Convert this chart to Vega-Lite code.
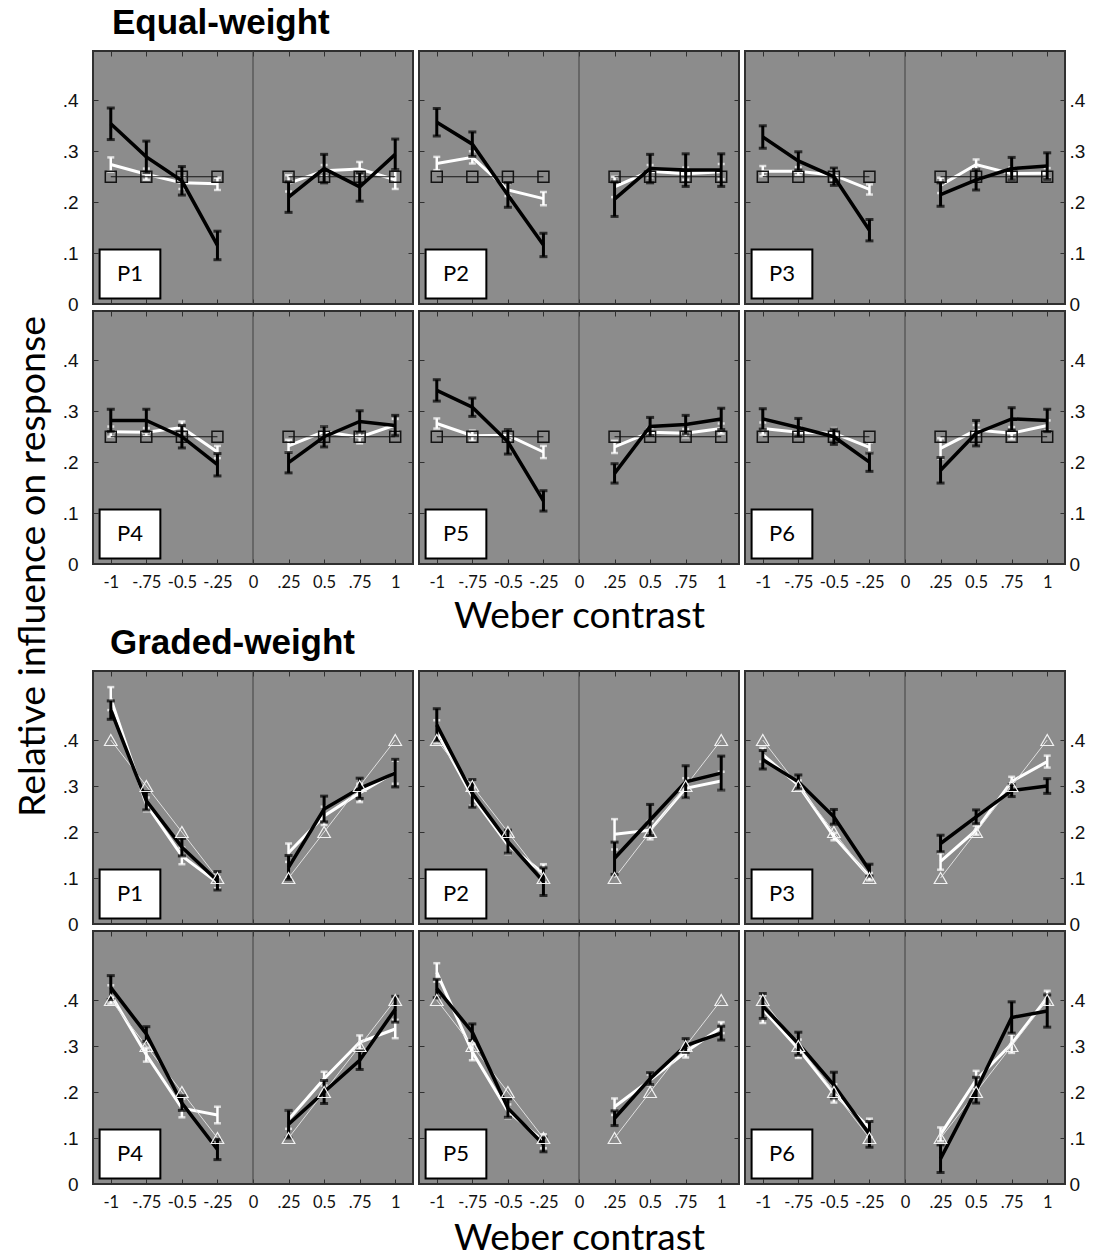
{
"$schema":"https://vega.github.io/schema/vega-lite/v6.json",
"padding":{"left":12,"top":5,"right":5,"bottom":0},
"background":"#ffffff",
"datasets":{"d":[
{"s":"E","p":"P1","x":-1,"h":"n","b":0.354,"be":0.031,"w":0.274,"we":0.014,"r":0.25},
{"s":"E","p":"P1","x":-0.75,"h":"n","b":0.289,"be":0.031,"w":0.255,"we":0.011,"r":0.25},
{"s":"E","p":"P1","x":-0.5,"h":"n","b":0.242,"be":0.028,"w":0.238,"we":0.012,"r":0.25},
{"s":"E","p":"P1","x":-0.25,"h":"n","b":0.115,"be":0.028,"w":0.236,"we":0.012,"r":0.25},
{"s":"E","p":"P1","x":0.25,"h":"p","b":0.21,"be":0.03,"w":0.237,"we":0.016,"r":0.25},
{"s":"E","p":"P1","x":0.5,"h":"p","b":0.266,"be":0.028,"w":0.262,"we":0.011,"r":0.25},
{"s":"E","p":"P1","x":0.75,"h":"p","b":0.23,"be":0.028,"w":0.265,"we":0.014,"r":0.25},
{"s":"E","p":"P1","x":1,"h":"p","b":0.294,"be":0.03,"w":0.244,"we":0.018,"r":0.25},
{"s":"E","p":"P2","x":-1,"h":"n","b":0.357,"be":0.027,"w":0.276,"we":0.013,"r":0.25},
{"s":"E","p":"P2","x":-0.75,"h":"n","b":0.314,"be":0.024,"w":0.288,"we":0.012,"r":0.25},
{"s":"E","p":"P2","x":-0.5,"h":"n","b":0.214,"be":0.024,"w":0.224,"we":0.012,"r":0.25},
{"s":"E","p":"P2","x":-0.25,"h":"n","b":0.116,"be":0.023,"w":0.207,"we":0.013,"r":0.25},
{"s":"E","p":"P2","x":0.25,"h":"p","b":0.206,"be":0.034,"w":0.23,"we":0.02,"r":0.25},
{"s":"E","p":"P2","x":0.5,"h":"p","b":0.266,"be":0.028,"w":0.261,"we":0.012,"r":0.25},
{"s":"E","p":"P2","x":0.75,"h":"p","b":0.263,"be":0.032,"w":0.256,"we":0.012,"r":0.25},
{"s":"E","p":"P2","x":1,"h":"p","b":0.263,"be":0.032,"w":0.26,"we":0.015,"r":0.25},
{"s":"E","p":"P3","x":-1,"h":"n","b":0.328,"be":0.022,"w":0.261,"we":0.01,"r":0.25},
{"s":"E","p":"P3","x":-0.75,"h":"n","b":0.281,"be":0.018,"w":0.261,"we":0.008,"r":0.25},
{"s":"E","p":"P3","x":-0.5,"h":"n","b":0.25,"be":0.017,"w":0.253,"we":0.01,"r":0.25},
{"s":"E","p":"P3","x":-0.25,"h":"n","b":0.145,"be":0.021,"w":0.225,"we":0.01,"r":0.25},
{"s":"E","p":"P3","x":0.25,"h":"p","b":0.215,"be":0.023,"w":0.233,"we":0.015,"r":0.25},
{"s":"E","p":"P3","x":0.5,"h":"p","b":0.244,"be":0.02,"w":0.274,"we":0.01,"r":0.25},
{"s":"E","p":"P3","x":0.75,"h":"p","b":0.266,"be":0.022,"w":0.256,"we":0.012,"r":0.25},
{"s":"E","p":"P3","x":1,"h":"p","b":0.271,"be":0.026,"w":0.257,"we":0.01,"r":0.25},
{"s":"E","p":"P4","x":-1,"h":"n","b":0.282,"be":0.022,"w":0.26,"we":0.01,"r":0.25},
{"s":"E","p":"P4","x":-0.75,"h":"n","b":0.282,"be":0.022,"w":0.259,"we":0.008,"r":0.25},
{"s":"E","p":"P4","x":-0.5,"h":"n","b":0.25,"be":0.022,"w":0.268,"we":0.012,"r":0.25},
{"s":"E","p":"P4","x":-0.25,"h":"n","b":0.195,"be":0.022,"w":0.22,"we":0.012,"r":0.25},
{"s":"E","p":"P4","x":0.25,"h":"p","b":0.199,"be":0.02,"w":0.232,"we":0.012,"r":0.25},
{"s":"E","p":"P4","x":0.5,"h":"p","b":0.25,"be":0.02,"w":0.26,"we":0.01,"r":0.25},
{"s":"E","p":"P4","x":0.75,"h":"p","b":0.28,"be":0.021,"w":0.249,"we":0.012,"r":0.25},
{"s":"E","p":"P4","x":1,"h":"p","b":0.272,"be":0.02,"w":0.273,"we":0.012,"r":0.25},
{"s":"E","p":"P5","x":-1,"h":"n","b":0.341,"be":0.021,"w":0.276,"we":0.01,"r":0.25},
{"s":"E","p":"P5","x":-0.75,"h":"n","b":0.308,"be":0.018,"w":0.252,"we":0.01,"r":0.25},
{"s":"E","p":"P5","x":-0.5,"h":"n","b":0.24,"be":0.024,"w":0.253,"we":0.01,"r":0.25},
{"s":"E","p":"P5","x":-0.25,"h":"n","b":0.124,"be":0.02,"w":0.22,"we":0.012,"r":0.25},
{"s":"E","p":"P5","x":0.25,"h":"p","b":0.178,"be":0.019,"w":0.23,"we":0.012,"r":0.25},
{"s":"E","p":"P5","x":0.5,"h":"p","b":0.27,"be":0.018,"w":0.259,"we":0.008,"r":0.25},
{"s":"E","p":"P5","x":0.75,"h":"p","b":0.274,"be":0.018,"w":0.257,"we":0.008,"r":0.25},
{"s":"E","p":"P5","x":1,"h":"p","b":0.285,"be":0.021,"w":0.266,"we":0.01,"r":0.25},
{"s":"E","p":"P6","x":-1,"h":"n","b":0.285,"be":0.02,"w":0.266,"we":0.012,"r":0.25},
{"s":"E","p":"P6","x":-0.75,"h":"n","b":0.268,"be":0.018,"w":0.259,"we":0.01,"r":0.25},
{"s":"E","p":"P6","x":-0.5,"h":"n","b":0.25,"be":0.015,"w":0.257,"we":0.01,"r":0.25},
{"s":"E","p":"P6","x":-0.25,"h":"n","b":0.2,"be":0.018,"w":0.229,"we":0.01,"r":0.25},
{"s":"E","p":"P6","x":0.25,"h":"p","b":0.184,"be":0.025,"w":0.227,"we":0.02,"r":0.25},
{"s":"E","p":"P6","x":0.5,"h":"p","b":0.257,"be":0.025,"w":0.263,"we":0.01,"r":0.25},
{"s":"E","p":"P6","x":0.75,"h":"p","b":0.285,"be":0.022,"w":0.257,"we":0.012,"r":0.25},
{"s":"E","p":"P6","x":1,"h":"p","b":0.282,"be":0.022,"w":0.272,"we":0.01,"r":0.25},
{"s":"G","p":"P1","x":-1,"h":"n","b":0.465,"be":0.02,"w":0.49,"we":0.025,"r":0.4},
{"s":"G","p":"P1","x":-0.75,"h":"n","b":0.268,"be":0.02,"w":0.26,"we":0.015,"r":0.3},
{"s":"G","p":"P1","x":-0.5,"h":"n","b":0.167,"be":0.019,"w":0.148,"we":0.018,"r":0.2},
{"s":"G","p":"P1","x":-0.25,"h":"n","b":0.094,"be":0.02,"w":0.09,"we":0.012,"r":0.1},
{"s":"G","p":"P1","x":0.25,"h":"p","b":0.123,"be":0.026,"w":0.155,"we":0.02,"r":0.1},
{"s":"G","p":"P1","x":0.5,"h":"p","b":0.25,"be":0.028,"w":0.235,"we":0.02,"r":0.2},
{"s":"G","p":"P1","x":0.75,"h":"p","b":0.295,"be":0.022,"w":0.285,"we":0.02,"r":0.3},
{"s":"G","p":"P1","x":1,"h":"p","b":0.328,"be":0.03,"w":0.33,"we":0.025,"r":0.4},
{"s":"G","p":"P2","x":-1,"h":"n","b":0.433,"be":0.035,"w":0.418,"we":0.025,"r":0.4},
{"s":"G","p":"P2","x":-0.75,"h":"n","b":0.284,"be":0.03,"w":0.277,"we":0.02,"r":0.3},
{"s":"G","p":"P2","x":-0.5,"h":"n","b":0.179,"be":0.025,"w":0.172,"we":0.02,"r":0.2},
{"s":"G","p":"P2","x":-0.25,"h":"n","b":0.092,"be":0.03,"w":0.11,"we":0.02,"r":0.1},
{"s":"G","p":"P2","x":0.25,"h":"p","b":0.143,"be":0.035,"w":0.195,"we":0.033,"r":0.1},
{"s":"G","p":"P2","x":0.5,"h":"p","b":0.226,"be":0.034,"w":0.204,"we":0.02,"r":0.2},
{"s":"G","p":"P2","x":0.75,"h":"p","b":0.309,"be":0.035,"w":0.295,"we":0.022,"r":0.3},
{"s":"G","p":"P2","x":1,"h":"p","b":0.328,"be":0.037,"w":0.311,"we":0.02,"r":0.4},
{"s":"G","p":"P3","x":-1,"h":"n","b":0.357,"be":0.02,"w":0.368,"we":0.015,"r":0.4},
{"s":"G","p":"P3","x":-0.75,"h":"n","b":0.309,"be":0.015,"w":0.302,"we":0.01,"r":0.3},
{"s":"G","p":"P3","x":-0.5,"h":"n","b":0.233,"be":0.016,"w":0.19,"we":0.008,"r":0.2},
{"s":"G","p":"P3","x":-0.25,"h":"n","b":0.117,"be":0.013,"w":0.103,"we":0.008,"r":0.1},
{"s":"G","p":"P3","x":0.25,"h":"p","b":0.175,"be":0.018,"w":0.136,"we":0.018,"r":0.1},
{"s":"G","p":"P3","x":0.5,"h":"p","b":0.233,"be":0.015,"w":0.204,"we":0.01,"r":0.2},
{"s":"G","p":"P3","x":0.75,"h":"p","b":0.29,"be":0.013,"w":0.31,"we":0.01,"r":0.3},
{"s":"G","p":"P3","x":1,"h":"p","b":0.3,"be":0.016,"w":0.353,"we":0.013,"r":0.4},
{"s":"G","p":"P4","x":-1,"h":"n","b":0.427,"be":0.026,"w":0.412,"we":0.02,"r":0.4},
{"s":"G","p":"P4","x":-0.75,"h":"n","b":0.326,"be":0.016,"w":0.281,"we":0.015,"r":0.3},
{"s":"G","p":"P4","x":-0.5,"h":"n","b":0.176,"be":0.016,"w":0.165,"we":0.02,"r":0.2},
{"s":"G","p":"P4","x":-0.25,"h":"n","b":0.075,"be":0.022,"w":0.15,"we":0.018,"r":0.1},
{"s":"G","p":"P4","x":0.25,"h":"p","b":0.13,"be":0.03,"w":0.14,"we":0.02,"r":0.1},
{"s":"G","p":"P4","x":0.5,"h":"p","b":0.2,"be":0.025,"w":0.229,"we":0.015,"r":0.2},
{"s":"G","p":"P4","x":0.75,"h":"p","b":0.269,"be":0.02,"w":0.308,"we":0.015,"r":0.3},
{"s":"G","p":"P4","x":1,"h":"p","b":0.38,"be":0.028,"w":0.337,"we":0.02,"r":0.4},
{"s":"G","p":"P5","x":-1,"h":"n","b":0.425,"be":0.02,"w":0.46,"we":0.02,"r":0.4},
{"s":"G","p":"P5","x":-0.75,"h":"n","b":0.33,"be":0.018,"w":0.287,"we":0.018,"r":0.3},
{"s":"G","p":"P5","x":-0.5,"h":"n","b":0.165,"be":0.02,"w":0.158,"we":0.015,"r":0.2},
{"s":"G","p":"P5","x":-0.25,"h":"n","b":0.086,"be":0.016,"w":0.093,"we":0.015,"r":0.1},
{"s":"G","p":"P5","x":0.25,"h":"p","b":0.143,"be":0.016,"w":0.168,"we":0.018,"r":0.1},
{"s":"G","p":"P5","x":0.5,"h":"p","b":0.229,"be":0.013,"w":0.226,"we":0.012,"r":0.2},
{"s":"G","p":"P5","x":0.75,"h":"p","b":0.301,"be":0.015,"w":0.287,"we":0.012,"r":0.3},
{"s":"G","p":"P5","x":1,"h":"p","b":0.328,"be":0.015,"w":0.34,"we":0.012,"r":0.4},
{"s":"G","p":"P6","x":-1,"h":"n","b":0.387,"be":0.027,"w":0.38,"we":0.03,"r":0.4},
{"s":"G","p":"P6","x":-0.75,"h":"n","b":0.305,"be":0.025,"w":0.294,"we":0.02,"r":0.3},
{"s":"G","p":"P6","x":-0.5,"h":"n","b":0.215,"be":0.028,"w":0.197,"we":0.02,"r":0.2},
{"s":"G","p":"P6","x":-0.25,"h":"n","b":0.108,"be":0.028,"w":0.122,"we":0.02,"r":0.1},
{"s":"G","p":"P6","x":0.25,"h":"p","b":0.055,"be":0.03,"w":0.108,"we":0.015,"r":0.1},
{"s":"G","p":"P6","x":0.5,"h":"p","b":0.204,"be":0.028,"w":0.226,"we":0.02,"r":0.2},
{"s":"G","p":"P6","x":0.75,"h":"p","b":0.362,"be":0.034,"w":0.305,"we":0.02,"r":0.3},
{"s":"G","p":"P6","x":1,"h":"p","b":0.376,"be":0.035,"w":0.405,"we":0.015,"r":0.4}
]},
"columns":3,
"bounds":"flush",
"spacing":{"row":7,"column":6},
"concat":[
{"width":320,"height":253,"data":{"name":"d"},"transform":[{"filter":"datum.s=='E'&&datum.p=='P1'"}],
"title":{"text":"Equal-weight","anchor":"start","frame":"group","font":"Liberation Sans","fontSize":35,"fontWeight":"bold","color":"#000000","baseline":"alphabetic","offset":-18.5,"dx":19},
"resolve":{"axis":{"x":"independent","y":"independent"}},"layer":[
{"data":{"values":[{"s":"E","p":"P1"}]},"mark":{"type":"rule","color":"#404040","strokeWidth":1},"encoding":{"x":{"datum":0,"type":"quantitative","axis":null}}},
{"mark":{"type":"errorbar","ticks":true,"size":7,"thickness":2.5,"color":"#ffffff"},"encoding":{"x":{"field":"x","type":"quantitative","axis":null},"y":{"field":"w","type":"quantitative","axis":null},"yError":{"field":"we"}}},
{"mark":{"type":"line","color":"#ffffff","strokeWidth":3},"encoding":{"x":{"field":"x","type":"quantitative","scale":{"domain":[-1.125,1.125],"nice":false},"axis":{"orient":"bottom","values":[-1,-0.75,-0.5,-0.25,0,0.25,0.5,0.75,1],"labels":false,"title":null}},"y":{"field":"w","type":"quantitative","scale":{"domain":[0,0.497],"nice":false},"axis":{"orient":"left","values":[0,0.1,0.2,0.3,0.4],"labelExpr":"datum.value==0?'0':'.'+round(datum.value*10)","title":null}},"detail":{"field":"h"}}},
{"mark":{"type":"line","color":"#141414","strokeWidth":1.2},"encoding":{"x":{"field":"x","type":"quantitative","axis":{"orient":"top","values":[-1,-0.75,-0.5,-0.25,0,0.25,0.5,0.75,1],"labels":false,"title":null}},"y":{"field":"r","type":"quantitative","axis":{"orient":"right","values":[0,0.1,0.2,0.3,0.4],"labels":false,"title":null}},"detail":{"field":"h"}}},
{"mark":{"type":"point","shape":"square","filled":false,"color":"#141414","size":120,"strokeWidth":1.5,"opacity":1},"encoding":{"x":{"field":"x","type":"quantitative","axis":null},"y":{"field":"r","type":"quantitative","axis":null}}},
{"mark":{"type":"errorbar","ticks":true,"size":8,"thickness":3,"color":"#000000"},"encoding":{"x":{"field":"x","type":"quantitative","axis":null},"y":{"field":"b","type":"quantitative","axis":null},"yError":{"field":"be"}}},
{"mark":{"type":"line","color":"#000000","strokeWidth":3.5},"encoding":{"x":{"field":"x","type":"quantitative","axis":null},"y":{"field":"b","type":"quantitative","axis":null},"detail":{"field":"h"}}},
{"data":{"values":[{"s":"E","p":"P1"}]},"mark":{"type":"point","shape":"M-1.24,-1H1.24V1H-1.24Z","size":2401,"filled":true,"fill":"#ffffff","stroke":"#000000","strokeWidth":2,"opacity":1},"encoding":{"x":{"datum":-0.865,"type":"quantitative","axis":null},"y":{"datum":0.059,"type":"quantitative","axis":null}}},
{"data":{"values":[{"s":"E","p":"P1"}]},"mark":{"type":"text","font":"Lato","fontSize":22,"color":"#000000"},"encoding":{"x":{"datum":-0.865,"type":"quantitative","axis":null},"y":{"datum":0.059,"type":"quantitative","axis":null},"text":{"field":"p"}}}
]},
{"width":320,"height":253,"data":{"name":"d"},"transform":[{"filter":"datum.s=='E'&&datum.p=='P2'"}],
"resolve":{"axis":{"x":"independent","y":"independent"}},"layer":[
{"data":{"values":[{"s":"E","p":"P2"}]},"mark":{"type":"rule","color":"#404040","strokeWidth":1},"encoding":{"x":{"datum":0,"type":"quantitative","axis":null}}},
{"mark":{"type":"errorbar","ticks":true,"size":7,"thickness":2.5,"color":"#ffffff"},"encoding":{"x":{"field":"x","type":"quantitative","axis":null},"y":{"field":"w","type":"quantitative","axis":null},"yError":{"field":"we"}}},
{"mark":{"type":"line","color":"#ffffff","strokeWidth":3},"encoding":{"x":{"field":"x","type":"quantitative","scale":{"domain":[-1.125,1.125],"nice":false},"axis":{"orient":"bottom","values":[-1,-0.75,-0.5,-0.25,0,0.25,0.5,0.75,1],"labels":false,"title":null}},"y":{"field":"w","type":"quantitative","scale":{"domain":[0,0.497],"nice":false},"axis":{"orient":"left","values":[0,0.1,0.2,0.3,0.4],"labels":false,"title":null}},"detail":{"field":"h"}}},
{"mark":{"type":"line","color":"#141414","strokeWidth":1.2},"encoding":{"x":{"field":"x","type":"quantitative","axis":{"orient":"top","values":[-1,-0.75,-0.5,-0.25,0,0.25,0.5,0.75,1],"labels":false,"title":null}},"y":{"field":"r","type":"quantitative","axis":{"orient":"right","values":[0,0.1,0.2,0.3,0.4],"labels":false,"title":null}},"detail":{"field":"h"}}},
{"mark":{"type":"point","shape":"square","filled":false,"color":"#141414","size":120,"strokeWidth":1.5,"opacity":1},"encoding":{"x":{"field":"x","type":"quantitative","axis":null},"y":{"field":"r","type":"quantitative","axis":null}}},
{"mark":{"type":"errorbar","ticks":true,"size":8,"thickness":3,"color":"#000000"},"encoding":{"x":{"field":"x","type":"quantitative","axis":null},"y":{"field":"b","type":"quantitative","axis":null},"yError":{"field":"be"}}},
{"mark":{"type":"line","color":"#000000","strokeWidth":3.5},"encoding":{"x":{"field":"x","type":"quantitative","axis":null},"y":{"field":"b","type":"quantitative","axis":null},"detail":{"field":"h"}}},
{"data":{"values":[{"s":"E","p":"P2"}]},"mark":{"type":"point","shape":"M-1.24,-1H1.24V1H-1.24Z","size":2401,"filled":true,"fill":"#ffffff","stroke":"#000000","strokeWidth":2,"opacity":1},"encoding":{"x":{"datum":-0.865,"type":"quantitative","axis":null},"y":{"datum":0.059,"type":"quantitative","axis":null}}},
{"data":{"values":[{"s":"E","p":"P2"}]},"mark":{"type":"text","font":"Lato","fontSize":22,"color":"#000000"},"encoding":{"x":{"datum":-0.865,"type":"quantitative","axis":null},"y":{"datum":0.059,"type":"quantitative","axis":null},"text":{"field":"p"}}}
]},
{"width":320,"height":253,"data":{"name":"d"},"transform":[{"filter":"datum.s=='E'&&datum.p=='P3'"}],
"resolve":{"axis":{"x":"independent","y":"independent"}},"layer":[
{"data":{"values":[{"s":"E","p":"P3"}]},"mark":{"type":"rule","color":"#404040","strokeWidth":1},"encoding":{"x":{"datum":0,"type":"quantitative","axis":null}}},
{"mark":{"type":"errorbar","ticks":true,"size":7,"thickness":2.5,"color":"#ffffff"},"encoding":{"x":{"field":"x","type":"quantitative","axis":null},"y":{"field":"w","type":"quantitative","axis":null},"yError":{"field":"we"}}},
{"mark":{"type":"line","color":"#ffffff","strokeWidth":3},"encoding":{"x":{"field":"x","type":"quantitative","scale":{"domain":[-1.125,1.125],"nice":false},"axis":{"orient":"bottom","values":[-1,-0.75,-0.5,-0.25,0,0.25,0.5,0.75,1],"labels":false,"title":null}},"y":{"field":"w","type":"quantitative","scale":{"domain":[0,0.497],"nice":false},"axis":{"orient":"left","values":[0,0.1,0.2,0.3,0.4],"labels":false,"title":null}},"detail":{"field":"h"}}},
{"mark":{"type":"line","color":"#141414","strokeWidth":1.2},"encoding":{"x":{"field":"x","type":"quantitative","axis":{"orient":"top","values":[-1,-0.75,-0.5,-0.25,0,0.25,0.5,0.75,1],"labels":false,"title":null}},"y":{"field":"r","type":"quantitative","axis":{"orient":"right","values":[0,0.1,0.2,0.3,0.4],"labelExpr":"datum.value==0?'0':'.'+round(datum.value*10)","title":null}},"detail":{"field":"h"}}},
{"mark":{"type":"point","shape":"square","filled":false,"color":"#141414","size":120,"strokeWidth":1.5,"opacity":1},"encoding":{"x":{"field":"x","type":"quantitative","axis":null},"y":{"field":"r","type":"quantitative","axis":null}}},
{"mark":{"type":"errorbar","ticks":true,"size":8,"thickness":3,"color":"#000000"},"encoding":{"x":{"field":"x","type":"quantitative","axis":null},"y":{"field":"b","type":"quantitative","axis":null},"yError":{"field":"be"}}},
{"mark":{"type":"line","color":"#000000","strokeWidth":3.5},"encoding":{"x":{"field":"x","type":"quantitative","axis":null},"y":{"field":"b","type":"quantitative","axis":null},"detail":{"field":"h"}}},
{"data":{"values":[{"s":"E","p":"P3"}]},"mark":{"type":"point","shape":"M-1.24,-1H1.24V1H-1.24Z","size":2401,"filled":true,"fill":"#ffffff","stroke":"#000000","strokeWidth":2,"opacity":1},"encoding":{"x":{"datum":-0.865,"type":"quantitative","axis":null},"y":{"datum":0.059,"type":"quantitative","axis":null}}},
{"data":{"values":[{"s":"E","p":"P3"}]},"mark":{"type":"text","font":"Lato","fontSize":22,"color":"#000000"},"encoding":{"x":{"datum":-0.865,"type":"quantitative","axis":null},"y":{"datum":0.059,"type":"quantitative","axis":null},"text":{"field":"p"}}}
]},
{"width":320,"height":253,"data":{"name":"d"},"transform":[{"filter":"datum.s=='E'&&datum.p=='P4'"}],
"resolve":{"axis":{"x":"independent","y":"independent"}},"layer":[
{"data":{"values":[{"s":"E","p":"P4"}]},"mark":{"type":"rule","color":"#404040","strokeWidth":1},"encoding":{"x":{"datum":0,"type":"quantitative","axis":null}}},
{"mark":{"type":"errorbar","ticks":true,"size":7,"thickness":2.5,"color":"#ffffff"},"encoding":{"x":{"field":"x","type":"quantitative","axis":null},"y":{"field":"w","type":"quantitative","axis":null},"yError":{"field":"we"}}},
{"mark":{"type":"line","color":"#ffffff","strokeWidth":3},"encoding":{"x":{"field":"x","type":"quantitative","scale":{"domain":[-1.125,1.125],"nice":false},"axis":{"orient":"bottom","values":[-1,-0.75,-0.5,-0.25,0,0.25,0.5,0.75,1],"labelExpr":"datum.value==-1?'-1':datum.value==-0.75?'-.75':datum.value==-0.5?'-0.5':datum.value==-0.25?'-.25':datum.value==0?'0':datum.value==0.25?'.25':datum.value==0.5?'0.5':datum.value==0.75?'.75':'1'","title":null}},"y":{"field":"w","type":"quantitative","scale":{"domain":[0,0.497],"nice":false},"axis":{"orient":"left","values":[0,0.1,0.2,0.3,0.4],"labelExpr":"datum.value==0?'0':'.'+round(datum.value*10)","title":"Relative influence on response","titleFont":"Lato","titleFontSize":37.5,"titleFontWeight":"normal","titleAngle":270,"titleX":-49,"titleY":255,"titleBaseline":"alphabetic","titleAlign":"center"}},"detail":{"field":"h"}}},
{"mark":{"type":"line","color":"#141414","strokeWidth":1.2},"encoding":{"x":{"field":"x","type":"quantitative","axis":{"orient":"top","values":[-1,-0.75,-0.5,-0.25,0,0.25,0.5,0.75,1],"labels":false,"title":null}},"y":{"field":"r","type":"quantitative","axis":{"orient":"right","values":[0,0.1,0.2,0.3,0.4],"labels":false,"title":null}},"detail":{"field":"h"}}},
{"mark":{"type":"point","shape":"square","filled":false,"color":"#141414","size":120,"strokeWidth":1.5,"opacity":1},"encoding":{"x":{"field":"x","type":"quantitative","axis":null},"y":{"field":"r","type":"quantitative","axis":null}}},
{"mark":{"type":"errorbar","ticks":true,"size":8,"thickness":3,"color":"#000000"},"encoding":{"x":{"field":"x","type":"quantitative","axis":null},"y":{"field":"b","type":"quantitative","axis":null},"yError":{"field":"be"}}},
{"mark":{"type":"line","color":"#000000","strokeWidth":3.5},"encoding":{"x":{"field":"x","type":"quantitative","axis":null},"y":{"field":"b","type":"quantitative","axis":null},"detail":{"field":"h"}}},
{"data":{"values":[{"s":"E","p":"P4"}]},"mark":{"type":"point","shape":"M-1.24,-1H1.24V1H-1.24Z","size":2401,"filled":true,"fill":"#ffffff","stroke":"#000000","strokeWidth":2,"opacity":1},"encoding":{"x":{"datum":-0.865,"type":"quantitative","axis":null},"y":{"datum":0.059,"type":"quantitative","axis":null}}},
{"data":{"values":[{"s":"E","p":"P4"}]},"mark":{"type":"text","font":"Lato","fontSize":22,"color":"#000000"},"encoding":{"x":{"datum":-0.865,"type":"quantitative","axis":null},"y":{"datum":0.059,"type":"quantitative","axis":null},"text":{"field":"p"}}}
]},
{"width":320,"height":253,"data":{"name":"d"},"transform":[{"filter":"datum.s=='E'&&datum.p=='P5'"}],
"resolve":{"axis":{"x":"independent","y":"independent"}},"layer":[
{"data":{"values":[{"s":"E","p":"P5"}]},"mark":{"type":"rule","color":"#404040","strokeWidth":1},"encoding":{"x":{"datum":0,"type":"quantitative","axis":null}}},
{"mark":{"type":"errorbar","ticks":true,"size":7,"thickness":2.5,"color":"#ffffff"},"encoding":{"x":{"field":"x","type":"quantitative","axis":null},"y":{"field":"w","type":"quantitative","axis":null},"yError":{"field":"we"}}},
{"mark":{"type":"line","color":"#ffffff","strokeWidth":3},"encoding":{"x":{"field":"x","type":"quantitative","scale":{"domain":[-1.125,1.125],"nice":false},"axis":{"orient":"bottom","values":[-1,-0.75,-0.5,-0.25,0,0.25,0.5,0.75,1],"labelExpr":"datum.value==-1?'-1':datum.value==-0.75?'-.75':datum.value==-0.5?'-0.5':datum.value==-0.25?'-.25':datum.value==0?'0':datum.value==0.25?'.25':datum.value==0.5?'0.5':datum.value==0.75?'.75':'1'","title":"Weber contrast","titleFont":"Lato","titleFontSize":37,"titleFontWeight":"normal","titleY":63,"titleBaseline":"alphabetic"}},"y":{"field":"w","type":"quantitative","scale":{"domain":[0,0.497],"nice":false},"axis":{"orient":"left","values":[0,0.1,0.2,0.3,0.4],"labels":false,"title":null}},"detail":{"field":"h"}}},
{"mark":{"type":"line","color":"#141414","strokeWidth":1.2},"encoding":{"x":{"field":"x","type":"quantitative","axis":{"orient":"top","values":[-1,-0.75,-0.5,-0.25,0,0.25,0.5,0.75,1],"labels":false,"title":null}},"y":{"field":"r","type":"quantitative","axis":{"orient":"right","values":[0,0.1,0.2,0.3,0.4],"labels":false,"title":null}},"detail":{"field":"h"}}},
{"mark":{"type":"point","shape":"square","filled":false,"color":"#141414","size":120,"strokeWidth":1.5,"opacity":1},"encoding":{"x":{"field":"x","type":"quantitative","axis":null},"y":{"field":"r","type":"quantitative","axis":null}}},
{"mark":{"type":"errorbar","ticks":true,"size":8,"thickness":3,"color":"#000000"},"encoding":{"x":{"field":"x","type":"quantitative","axis":null},"y":{"field":"b","type":"quantitative","axis":null},"yError":{"field":"be"}}},
{"mark":{"type":"line","color":"#000000","strokeWidth":3.5},"encoding":{"x":{"field":"x","type":"quantitative","axis":null},"y":{"field":"b","type":"quantitative","axis":null},"detail":{"field":"h"}}},
{"data":{"values":[{"s":"E","p":"P5"}]},"mark":{"type":"point","shape":"M-1.24,-1H1.24V1H-1.24Z","size":2401,"filled":true,"fill":"#ffffff","stroke":"#000000","strokeWidth":2,"opacity":1},"encoding":{"x":{"datum":-0.865,"type":"quantitative","axis":null},"y":{"datum":0.059,"type":"quantitative","axis":null}}},
{"data":{"values":[{"s":"E","p":"P5"}]},"mark":{"type":"text","font":"Lato","fontSize":22,"color":"#000000"},"encoding":{"x":{"datum":-0.865,"type":"quantitative","axis":null},"y":{"datum":0.059,"type":"quantitative","axis":null},"text":{"field":"p"}}}
]},
{"width":320,"height":253,"data":{"name":"d"},"transform":[{"filter":"datum.s=='E'&&datum.p=='P6'"}],
"resolve":{"axis":{"x":"independent","y":"independent"}},"layer":[
{"data":{"values":[{"s":"E","p":"P6"}]},"mark":{"type":"rule","color":"#404040","strokeWidth":1},"encoding":{"x":{"datum":0,"type":"quantitative","axis":null}}},
{"mark":{"type":"errorbar","ticks":true,"size":7,"thickness":2.5,"color":"#ffffff"},"encoding":{"x":{"field":"x","type":"quantitative","axis":null},"y":{"field":"w","type":"quantitative","axis":null},"yError":{"field":"we"}}},
{"mark":{"type":"line","color":"#ffffff","strokeWidth":3},"encoding":{"x":{"field":"x","type":"quantitative","scale":{"domain":[-1.125,1.125],"nice":false},"axis":{"orient":"bottom","values":[-1,-0.75,-0.5,-0.25,0,0.25,0.5,0.75,1],"labelExpr":"datum.value==-1?'-1':datum.value==-0.75?'-.75':datum.value==-0.5?'-0.5':datum.value==-0.25?'-.25':datum.value==0?'0':datum.value==0.25?'.25':datum.value==0.5?'0.5':datum.value==0.75?'.75':'1'","title":null}},"y":{"field":"w","type":"quantitative","scale":{"domain":[0,0.497],"nice":false},"axis":{"orient":"left","values":[0,0.1,0.2,0.3,0.4],"labels":false,"title":null}},"detail":{"field":"h"}}},
{"mark":{"type":"line","color":"#141414","strokeWidth":1.2},"encoding":{"x":{"field":"x","type":"quantitative","axis":{"orient":"top","values":[-1,-0.75,-0.5,-0.25,0,0.25,0.5,0.75,1],"labels":false,"title":null}},"y":{"field":"r","type":"quantitative","axis":{"orient":"right","values":[0,0.1,0.2,0.3,0.4],"labelExpr":"datum.value==0?'0':'.'+round(datum.value*10)","title":null}},"detail":{"field":"h"}}},
{"mark":{"type":"point","shape":"square","filled":false,"color":"#141414","size":120,"strokeWidth":1.5,"opacity":1},"encoding":{"x":{"field":"x","type":"quantitative","axis":null},"y":{"field":"r","type":"quantitative","axis":null}}},
{"mark":{"type":"errorbar","ticks":true,"size":8,"thickness":3,"color":"#000000"},"encoding":{"x":{"field":"x","type":"quantitative","axis":null},"y":{"field":"b","type":"quantitative","axis":null},"yError":{"field":"be"}}},
{"mark":{"type":"line","color":"#000000","strokeWidth":3.5},"encoding":{"x":{"field":"x","type":"quantitative","axis":null},"y":{"field":"b","type":"quantitative","axis":null},"detail":{"field":"h"}}},
{"data":{"values":[{"s":"E","p":"P6"}]},"mark":{"type":"point","shape":"M-1.24,-1H1.24V1H-1.24Z","size":2401,"filled":true,"fill":"#ffffff","stroke":"#000000","strokeWidth":2,"opacity":1},"encoding":{"x":{"datum":-0.865,"type":"quantitative","axis":null},"y":{"datum":0.059,"type":"quantitative","axis":null}}},
{"data":{"values":[{"s":"E","p":"P6"}]},"mark":{"type":"text","font":"Lato","fontSize":22,"color":"#000000"},"encoding":{"x":{"datum":-0.865,"type":"quantitative","axis":null},"y":{"datum":0.059,"type":"quantitative","axis":null},"text":{"field":"p"}}}
]},
{"width":320,"height":93,"data":{"values":[]},"mark":"point","view":{"stroke":null,"fill":null}},
{"width":320,"height":93,"data":{"values":[]},"mark":"point","view":{"stroke":null,"fill":null}},
{"width":320,"height":93,"data":{"values":[]},"mark":"point","view":{"stroke":null,"fill":null}},
{"width":320,"height":253,"data":{"name":"d"},"transform":[{"filter":"datum.s=='G'&&datum.p=='P1'"}],
"title":{"text":"Graded-weight","anchor":"start","frame":"group","font":"Liberation Sans","fontSize":35,"fontWeight":"bold","color":"#000000","baseline":"alphabetic","offset":-18.5,"dx":17},
"resolve":{"axis":{"x":"independent","y":"independent"}},"layer":[
{"data":{"values":[{"s":"G","p":"P1"}]},"mark":{"type":"rule","color":"#404040","strokeWidth":1},"encoding":{"x":{"datum":0,"type":"quantitative","axis":null}}},
{"mark":{"type":"errorbar","ticks":true,"size":7,"thickness":2.5,"color":"#ffffff"},"encoding":{"x":{"field":"x","type":"quantitative","axis":null},"y":{"field":"w","type":"quantitative","axis":null},"yError":{"field":"we"}}},
{"mark":{"type":"line","color":"#ffffff","strokeWidth":3},"encoding":{"x":{"field":"x","type":"quantitative","scale":{"domain":[-1.125,1.125],"nice":false},"axis":{"orient":"bottom","values":[-1,-0.75,-0.5,-0.25,0,0.25,0.5,0.75,1],"labels":false,"title":null}},"y":{"field":"w","type":"quantitative","scale":{"domain":[0,0.55],"nice":false},"axis":{"orient":"left","values":[0,0.1,0.2,0.3,0.4],"labelExpr":"datum.value==0?'0':'.'+round(datum.value*10)","title":null}},"detail":{"field":"h"}}},
{"mark":{"type":"line","color":"#e0e0e0","strokeWidth":1},"encoding":{"x":{"field":"x","type":"quantitative","axis":{"orient":"top","values":[-1,-0.75,-0.5,-0.25,0,0.25,0.5,0.75,1],"labels":false,"title":null}},"y":{"field":"r","type":"quantitative","axis":{"orient":"right","values":[0,0.1,0.2,0.3,0.4],"labels":false,"title":null}},"detail":{"field":"h"}}},
{"mark":{"type":"errorbar","ticks":true,"size":8,"thickness":3,"color":"#000000"},"encoding":{"x":{"field":"x","type":"quantitative","axis":null},"y":{"field":"b","type":"quantitative","axis":null},"yError":{"field":"be"}}},
{"mark":{"type":"line","color":"#000000","strokeWidth":3.5},"encoding":{"x":{"field":"x","type":"quantitative","axis":null},"y":{"field":"b","type":"quantitative","axis":null},"detail":{"field":"h"}}},
{"mark":{"type":"point","shape":"triangle-up","filled":false,"color":"#f2f2f2","size":160,"strokeWidth":1.2,"opacity":1},"encoding":{"x":{"field":"x","type":"quantitative","axis":null},"y":{"field":"r","type":"quantitative","axis":null}}},
{"data":{"values":[{"s":"G","p":"P1"}]},"mark":{"type":"point","shape":"M-1.24,-1H1.24V1H-1.24Z","size":2401,"filled":true,"fill":"#ffffff","stroke":"#000000","strokeWidth":2,"opacity":1},"encoding":{"x":{"datum":-0.865,"type":"quantitative","axis":null},"y":{"datum":0.065,"type":"quantitative","axis":null}}},
{"data":{"values":[{"s":"G","p":"P1"}]},"mark":{"type":"text","font":"Lato","fontSize":22,"color":"#000000"},"encoding":{"x":{"datum":-0.865,"type":"quantitative","axis":null},"y":{"datum":0.065,"type":"quantitative","axis":null},"text":{"field":"p"}}}
]},
{"width":320,"height":253,"data":{"name":"d"},"transform":[{"filter":"datum.s=='G'&&datum.p=='P2'"}],
"resolve":{"axis":{"x":"independent","y":"independent"}},"layer":[
{"data":{"values":[{"s":"G","p":"P2"}]},"mark":{"type":"rule","color":"#404040","strokeWidth":1},"encoding":{"x":{"datum":0,"type":"quantitative","axis":null}}},
{"mark":{"type":"errorbar","ticks":true,"size":7,"thickness":2.5,"color":"#ffffff"},"encoding":{"x":{"field":"x","type":"quantitative","axis":null},"y":{"field":"w","type":"quantitative","axis":null},"yError":{"field":"we"}}},
{"mark":{"type":"line","color":"#ffffff","strokeWidth":3},"encoding":{"x":{"field":"x","type":"quantitative","scale":{"domain":[-1.125,1.125],"nice":false},"axis":{"orient":"bottom","values":[-1,-0.75,-0.5,-0.25,0,0.25,0.5,0.75,1],"labels":false,"title":null}},"y":{"field":"w","type":"quantitative","scale":{"domain":[0,0.55],"nice":false},"axis":{"orient":"left","values":[0,0.1,0.2,0.3,0.4],"labels":false,"title":null}},"detail":{"field":"h"}}},
{"mark":{"type":"line","color":"#e0e0e0","strokeWidth":1},"encoding":{"x":{"field":"x","type":"quantitative","axis":{"orient":"top","values":[-1,-0.75,-0.5,-0.25,0,0.25,0.5,0.75,1],"labels":false,"title":null}},"y":{"field":"r","type":"quantitative","axis":{"orient":"right","values":[0,0.1,0.2,0.3,0.4],"labels":false,"title":null}},"detail":{"field":"h"}}},
{"mark":{"type":"errorbar","ticks":true,"size":8,"thickness":3,"color":"#000000"},"encoding":{"x":{"field":"x","type":"quantitative","axis":null},"y":{"field":"b","type":"quantitative","axis":null},"yError":{"field":"be"}}},
{"mark":{"type":"line","color":"#000000","strokeWidth":3.5},"encoding":{"x":{"field":"x","type":"quantitative","axis":null},"y":{"field":"b","type":"quantitative","axis":null},"detail":{"field":"h"}}},
{"mark":{"type":"point","shape":"triangle-up","filled":false,"color":"#f2f2f2","size":160,"strokeWidth":1.2,"opacity":1},"encoding":{"x":{"field":"x","type":"quantitative","axis":null},"y":{"field":"r","type":"quantitative","axis":null}}},
{"data":{"values":[{"s":"G","p":"P2"}]},"mark":{"type":"point","shape":"M-1.24,-1H1.24V1H-1.24Z","size":2401,"filled":true,"fill":"#ffffff","stroke":"#000000","strokeWidth":2,"opacity":1},"encoding":{"x":{"datum":-0.865,"type":"quantitative","axis":null},"y":{"datum":0.065,"type":"quantitative","axis":null}}},
{"data":{"values":[{"s":"G","p":"P2"}]},"mark":{"type":"text","font":"Lato","fontSize":22,"color":"#000000"},"encoding":{"x":{"datum":-0.865,"type":"quantitative","axis":null},"y":{"datum":0.065,"type":"quantitative","axis":null},"text":{"field":"p"}}}
]},
{"width":320,"height":253,"data":{"name":"d"},"transform":[{"filter":"datum.s=='G'&&datum.p=='P3'"}],
"resolve":{"axis":{"x":"independent","y":"independent"}},"layer":[
{"data":{"values":[{"s":"G","p":"P3"}]},"mark":{"type":"rule","color":"#404040","strokeWidth":1},"encoding":{"x":{"datum":0,"type":"quantitative","axis":null}}},
{"mark":{"type":"errorbar","ticks":true,"size":7,"thickness":2.5,"color":"#ffffff"},"encoding":{"x":{"field":"x","type":"quantitative","axis":null},"y":{"field":"w","type":"quantitative","axis":null},"yError":{"field":"we"}}},
{"mark":{"type":"line","color":"#ffffff","strokeWidth":3},"encoding":{"x":{"field":"x","type":"quantitative","scale":{"domain":[-1.125,1.125],"nice":false},"axis":{"orient":"bottom","values":[-1,-0.75,-0.5,-0.25,0,0.25,0.5,0.75,1],"labels":false,"title":null}},"y":{"field":"w","type":"quantitative","scale":{"domain":[0,0.55],"nice":false},"axis":{"orient":"left","values":[0,0.1,0.2,0.3,0.4],"labels":false,"title":null}},"detail":{"field":"h"}}},
{"mark":{"type":"line","color":"#e0e0e0","strokeWidth":1},"encoding":{"x":{"field":"x","type":"quantitative","axis":{"orient":"top","values":[-1,-0.75,-0.5,-0.25,0,0.25,0.5,0.75,1],"labels":false,"title":null}},"y":{"field":"r","type":"quantitative","axis":{"orient":"right","values":[0,0.1,0.2,0.3,0.4],"labelExpr":"datum.value==0?'0':'.'+round(datum.value*10)","title":null}},"detail":{"field":"h"}}},
{"mark":{"type":"errorbar","ticks":true,"size":8,"thickness":3,"color":"#000000"},"encoding":{"x":{"field":"x","type":"quantitative","axis":null},"y":{"field":"b","type":"quantitative","axis":null},"yError":{"field":"be"}}},
{"mark":{"type":"line","color":"#000000","strokeWidth":3.5},"encoding":{"x":{"field":"x","type":"quantitative","axis":null},"y":{"field":"b","type":"quantitative","axis":null},"detail":{"field":"h"}}},
{"mark":{"type":"point","shape":"triangle-up","filled":false,"color":"#f2f2f2","size":160,"strokeWidth":1.2,"opacity":1},"encoding":{"x":{"field":"x","type":"quantitative","axis":null},"y":{"field":"r","type":"quantitative","axis":null}}},
{"data":{"values":[{"s":"G","p":"P3"}]},"mark":{"type":"point","shape":"M-1.24,-1H1.24V1H-1.24Z","size":2401,"filled":true,"fill":"#ffffff","stroke":"#000000","strokeWidth":2,"opacity":1},"encoding":{"x":{"datum":-0.865,"type":"quantitative","axis":null},"y":{"datum":0.065,"type":"quantitative","axis":null}}},
{"data":{"values":[{"s":"G","p":"P3"}]},"mark":{"type":"text","font":"Lato","fontSize":22,"color":"#000000"},"encoding":{"x":{"datum":-0.865,"type":"quantitative","axis":null},"y":{"datum":0.065,"type":"quantitative","axis":null},"text":{"field":"p"}}}
]},
{"width":320,"height":253,"data":{"name":"d"},"transform":[{"filter":"datum.s=='G'&&datum.p=='P4'"}],
"resolve":{"axis":{"x":"independent","y":"independent"}},"layer":[
{"data":{"values":[{"s":"G","p":"P4"}]},"mark":{"type":"rule","color":"#404040","strokeWidth":1},"encoding":{"x":{"datum":0,"type":"quantitative","axis":null}}},
{"mark":{"type":"errorbar","ticks":true,"size":7,"thickness":2.5,"color":"#ffffff"},"encoding":{"x":{"field":"x","type":"quantitative","axis":null},"y":{"field":"w","type":"quantitative","axis":null},"yError":{"field":"we"}}},
{"mark":{"type":"line","color":"#ffffff","strokeWidth":3},"encoding":{"x":{"field":"x","type":"quantitative","scale":{"domain":[-1.125,1.125],"nice":false},"axis":{"orient":"bottom","values":[-1,-0.75,-0.5,-0.25,0,0.25,0.5,0.75,1],"labelExpr":"datum.value==-1?'-1':datum.value==-0.75?'-.75':datum.value==-0.5?'-0.5':datum.value==-0.25?'-.25':datum.value==0?'0':datum.value==0.25?'.25':datum.value==0.5?'0.5':datum.value==0.75?'.75':'1'","title":null}},"y":{"field":"w","type":"quantitative","scale":{"domain":[0,0.55],"nice":false},"axis":{"orient":"left","values":[0,0.1,0.2,0.3,0.4],"labelExpr":"datum.value==0?'0':'.'+round(datum.value*10)","title":null}},"detail":{"field":"h"}}},
{"mark":{"type":"line","color":"#e0e0e0","strokeWidth":1},"encoding":{"x":{"field":"x","type":"quantitative","axis":{"orient":"top","values":[-1,-0.75,-0.5,-0.25,0,0.25,0.5,0.75,1],"labels":false,"title":null}},"y":{"field":"r","type":"quantitative","axis":{"orient":"right","values":[0,0.1,0.2,0.3,0.4],"labels":false,"title":null}},"detail":{"field":"h"}}},
{"mark":{"type":"errorbar","ticks":true,"size":8,"thickness":3,"color":"#000000"},"encoding":{"x":{"field":"x","type":"quantitative","axis":null},"y":{"field":"b","type":"quantitative","axis":null},"yError":{"field":"be"}}},
{"mark":{"type":"line","color":"#000000","strokeWidth":3.5},"encoding":{"x":{"field":"x","type":"quantitative","axis":null},"y":{"field":"b","type":"quantitative","axis":null},"detail":{"field":"h"}}},
{"mark":{"type":"point","shape":"triangle-up","filled":false,"color":"#f2f2f2","size":160,"strokeWidth":1.2,"opacity":1},"encoding":{"x":{"field":"x","type":"quantitative","axis":null},"y":{"field":"r","type":"quantitative","axis":null}}},
{"data":{"values":[{"s":"G","p":"P4"}]},"mark":{"type":"point","shape":"M-1.24,-1H1.24V1H-1.24Z","size":2401,"filled":true,"fill":"#ffffff","stroke":"#000000","strokeWidth":2,"opacity":1},"encoding":{"x":{"datum":-0.865,"type":"quantitative","axis":null},"y":{"datum":0.065,"type":"quantitative","axis":null}}},
{"data":{"values":[{"s":"G","p":"P4"}]},"mark":{"type":"text","font":"Lato","fontSize":22,"color":"#000000"},"encoding":{"x":{"datum":-0.865,"type":"quantitative","axis":null},"y":{"datum":0.065,"type":"quantitative","axis":null},"text":{"field":"p"}}}
]},
{"width":320,"height":253,"data":{"name":"d"},"transform":[{"filter":"datum.s=='G'&&datum.p=='P5'"}],
"resolve":{"axis":{"x":"independent","y":"independent"}},"layer":[
{"data":{"values":[{"s":"G","p":"P5"}]},"mark":{"type":"rule","color":"#404040","strokeWidth":1},"encoding":{"x":{"datum":0,"type":"quantitative","axis":null}}},
{"mark":{"type":"errorbar","ticks":true,"size":7,"thickness":2.5,"color":"#ffffff"},"encoding":{"x":{"field":"x","type":"quantitative","axis":null},"y":{"field":"w","type":"quantitative","axis":null},"yError":{"field":"we"}}},
{"mark":{"type":"line","color":"#ffffff","strokeWidth":3},"encoding":{"x":{"field":"x","type":"quantitative","scale":{"domain":[-1.125,1.125],"nice":false},"axis":{"orient":"bottom","values":[-1,-0.75,-0.5,-0.25,0,0.25,0.5,0.75,1],"labelExpr":"datum.value==-1?'-1':datum.value==-0.75?'-.75':datum.value==-0.5?'-0.5':datum.value==-0.25?'-.25':datum.value==0?'0':datum.value==0.25?'.25':datum.value==0.5?'0.5':datum.value==0.75?'.75':'1'","title":"Weber contrast","titleFont":"Lato","titleFontSize":37,"titleFontWeight":"normal","titleY":65,"titleBaseline":"alphabetic"}},"y":{"field":"w","type":"quantitative","scale":{"domain":[0,0.55],"nice":false},"axis":{"orient":"left","values":[0,0.1,0.2,0.3,0.4],"labels":false,"title":null}},"detail":{"field":"h"}}},
{"mark":{"type":"line","color":"#e0e0e0","strokeWidth":1},"encoding":{"x":{"field":"x","type":"quantitative","axis":{"orient":"top","values":[-1,-0.75,-0.5,-0.25,0,0.25,0.5,0.75,1],"labels":false,"title":null}},"y":{"field":"r","type":"quantitative","axis":{"orient":"right","values":[0,0.1,0.2,0.3,0.4],"labels":false,"title":null}},"detail":{"field":"h"}}},
{"mark":{"type":"errorbar","ticks":true,"size":8,"thickness":3,"color":"#000000"},"encoding":{"x":{"field":"x","type":"quantitative","axis":null},"y":{"field":"b","type":"quantitative","axis":null},"yError":{"field":"be"}}},
{"mark":{"type":"line","color":"#000000","strokeWidth":3.5},"encoding":{"x":{"field":"x","type":"quantitative","axis":null},"y":{"field":"b","type":"quantitative","axis":null},"detail":{"field":"h"}}},
{"mark":{"type":"point","shape":"triangle-up","filled":false,"color":"#f2f2f2","size":160,"strokeWidth":1.2,"opacity":1},"encoding":{"x":{"field":"x","type":"quantitative","axis":null},"y":{"field":"r","type":"quantitative","axis":null}}},
{"data":{"values":[{"s":"G","p":"P5"}]},"mark":{"type":"point","shape":"M-1.24,-1H1.24V1H-1.24Z","size":2401,"filled":true,"fill":"#ffffff","stroke":"#000000","strokeWidth":2,"opacity":1},"encoding":{"x":{"datum":-0.865,"type":"quantitative","axis":null},"y":{"datum":0.065,"type":"quantitative","axis":null}}},
{"data":{"values":[{"s":"G","p":"P5"}]},"mark":{"type":"text","font":"Lato","fontSize":22,"color":"#000000"},"encoding":{"x":{"datum":-0.865,"type":"quantitative","axis":null},"y":{"datum":0.065,"type":"quantitative","axis":null},"text":{"field":"p"}}}
]},
{"width":320,"height":253,"data":{"name":"d"},"transform":[{"filter":"datum.s=='G'&&datum.p=='P6'"}],
"resolve":{"axis":{"x":"independent","y":"independent"}},"layer":[
{"data":{"values":[{"s":"G","p":"P6"}]},"mark":{"type":"rule","color":"#404040","strokeWidth":1},"encoding":{"x":{"datum":0,"type":"quantitative","axis":null}}},
{"mark":{"type":"errorbar","ticks":true,"size":7,"thickness":2.5,"color":"#ffffff"},"encoding":{"x":{"field":"x","type":"quantitative","axis":null},"y":{"field":"w","type":"quantitative","axis":null},"yError":{"field":"we"}}},
{"mark":{"type":"line","color":"#ffffff","strokeWidth":3},"encoding":{"x":{"field":"x","type":"quantitative","scale":{"domain":[-1.125,1.125],"nice":false},"axis":{"orient":"bottom","values":[-1,-0.75,-0.5,-0.25,0,0.25,0.5,0.75,1],"labelExpr":"datum.value==-1?'-1':datum.value==-0.75?'-.75':datum.value==-0.5?'-0.5':datum.value==-0.25?'-.25':datum.value==0?'0':datum.value==0.25?'.25':datum.value==0.5?'0.5':datum.value==0.75?'.75':'1'","title":null}},"y":{"field":"w","type":"quantitative","scale":{"domain":[0,0.55],"nice":false},"axis":{"orient":"left","values":[0,0.1,0.2,0.3,0.4],"labels":false,"title":null}},"detail":{"field":"h"}}},
{"mark":{"type":"line","color":"#e0e0e0","strokeWidth":1},"encoding":{"x":{"field":"x","type":"quantitative","axis":{"orient":"top","values":[-1,-0.75,-0.5,-0.25,0,0.25,0.5,0.75,1],"labels":false,"title":null}},"y":{"field":"r","type":"quantitative","axis":{"orient":"right","values":[0,0.1,0.2,0.3,0.4],"labelExpr":"datum.value==0?'0':'.'+round(datum.value*10)","title":null}},"detail":{"field":"h"}}},
{"mark":{"type":"errorbar","ticks":true,"size":8,"thickness":3,"color":"#000000"},"encoding":{"x":{"field":"x","type":"quantitative","axis":null},"y":{"field":"b","type":"quantitative","axis":null},"yError":{"field":"be"}}},
{"mark":{"type":"line","color":"#000000","strokeWidth":3.5},"encoding":{"x":{"field":"x","type":"quantitative","axis":null},"y":{"field":"b","type":"quantitative","axis":null},"detail":{"field":"h"}}},
{"mark":{"type":"point","shape":"triangle-up","filled":false,"color":"#f2f2f2","size":160,"strokeWidth":1.2,"opacity":1},"encoding":{"x":{"field":"x","type":"quantitative","axis":null},"y":{"field":"r","type":"quantitative","axis":null}}},
{"data":{"values":[{"s":"G","p":"P6"}]},"mark":{"type":"point","shape":"M-1.24,-1H1.24V1H-1.24Z","size":2401,"filled":true,"fill":"#ffffff","stroke":"#000000","strokeWidth":2,"opacity":1},"encoding":{"x":{"datum":-0.865,"type":"quantitative","axis":null},"y":{"datum":0.065,"type":"quantitative","axis":null}}},
{"data":{"values":[{"s":"G","p":"P6"}]},"mark":{"type":"text","font":"Lato","fontSize":22,"color":"#000000"},"encoding":{"x":{"datum":-0.865,"type":"quantitative","axis":null},"y":{"datum":0.065,"type":"quantitative","axis":null},"text":{"field":"p"}}}
]}
],
"config":{
"view":{"fill":"#8c8c8c","stroke":"#303030","strokeWidth":2},
"axis":{"grid":false,"domain":false,"tickSize":-5,"tickColor":"#303030","tickWidth":1,"labelColor":"#111111","labelOverlap":false,"labelFlush":false,"titleColor":"#000000","minExtent":0},
"axisX":{"labelFont":"Lato","labelFontSize":16.5,"labelPadding":15},
"axisY":{"labelFont":"Liberation Sans","labelFontSize":19},
"axisLeft":{"labelPadding":20},
"axisRight":{"labelPadding":9}
}
}
